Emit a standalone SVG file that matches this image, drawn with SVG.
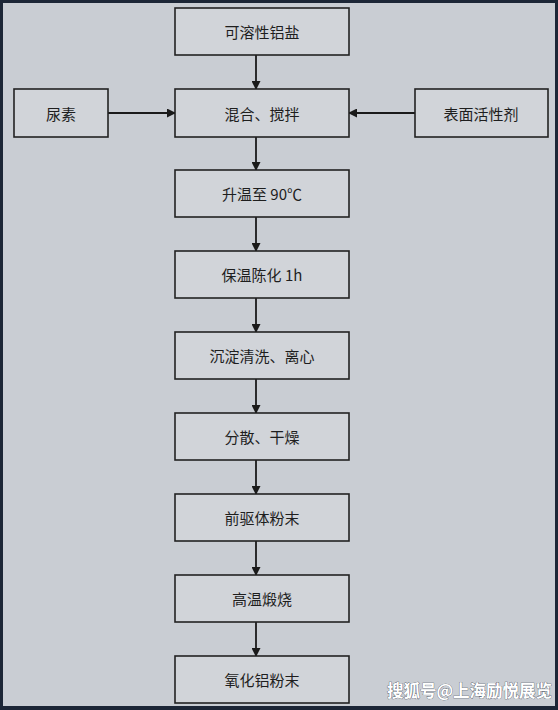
<svg xmlns="http://www.w3.org/2000/svg" width="558" height="710" viewBox="0 0 558 710">
<style>
.box{fill:#d1d4d9;stroke:#222;stroke-width:1.6}
.t{font-family:"Noto Sans CJK SC","Liberation Serif",serif;font-size:15px;fill:#1e1e1e;text-anchor:middle;dominant-baseline:central}
.c{stroke:#1a1a1a;stroke-width:1.8;fill:none;marker-end:url(#ah)}
.wm{font-family:"Noto Sans CJK SC",sans-serif;font-size:16.5px;font-weight:bold;fill:#fff;stroke:#3a4450;stroke-width:0.6;paint-order:stroke}
</style>
<defs>
<marker id="ah" markerWidth="9" markerHeight="9" refX="8" refY="4.5" orient="auto" markerUnits="userSpaceOnUse">
<path d="M0,0 L9,4.5 L0,9 Z" fill="#1a1a1a"/>
</marker>
</defs>
<rect x="0" y="0" width="558" height="710" fill="#1c2636"/>
<rect x="3" y="3" width="552" height="703" fill="#c9cdd3"/>
<g id="connectors">
<line class="c" x1="256" y1="55" x2="256" y2="89"/>
<line class="c" x1="108" y1="113" x2="175" y2="113"/>
<line class="c" x1="415" y1="113" x2="349" y2="113"/>
<line class="c" x1="256" y1="137" x2="256" y2="170"/>
<line class="c" x1="256" y1="217" x2="256" y2="251"/>
<line class="c" x1="256" y1="298" x2="256" y2="332"/>
<line class="c" x1="256" y1="379" x2="256" y2="413"/>
<line class="c" x1="256" y1="460" x2="256" y2="494"/>
<line class="c" x1="256" y1="541" x2="256" y2="575"/>
<line class="c" x1="256" y1="622" x2="256" y2="656"/>
</g>
<g id="n1"><rect class="box" x="175" y="8" width="174" height="47"/><text class="t" x="262" y="31">可溶性铝盐</text></g>
<g id="n2"><rect class="box" x="175" y="89" width="174" height="48"/><text class="t" x="262" y="113">混合、搅拌</text></g>
<g id="n_urea"><rect class="box" x="14" y="89" width="94" height="48"/><text class="t" x="61" y="113">尿素</text></g>
<g id="n_surf"><rect class="box" x="415" y="89" width="133" height="48"/><text class="t" x="481" y="113">表面活性剂</text></g>
<g id="n3"><rect class="box" x="175" y="170" width="174" height="47"/><text class="t" x="262" y="193">升温至 90℃</text></g>
<g id="n4"><rect class="box" x="175" y="251" width="174" height="47"/><text class="t" x="262" y="274">保温陈化 1h</text></g>
<g id="n5"><rect class="box" x="175" y="332" width="174" height="47"/><text class="t" x="262" y="355">沉淀清洗、离心</text></g>
<g id="n6"><rect class="box" x="175" y="413" width="174" height="47"/><text class="t" x="262" y="436">分散、干燥</text></g>
<g id="n7"><rect class="box" x="175" y="494" width="174" height="47"/><text class="t" x="262" y="517">前驱体粉末</text></g>
<g id="n8"><rect class="box" x="175" y="575" width="174" height="47"/><text class="t" x="262" y="598">高温煅烧</text></g>
<g id="n9"><rect class="box" x="175" y="656" width="174" height="47"/><text class="t" x="262" y="679">氧化铝粉末</text></g>
<text class="wm" x="387" y="697">搜狐号@上海励悦展览</text>
</svg>
